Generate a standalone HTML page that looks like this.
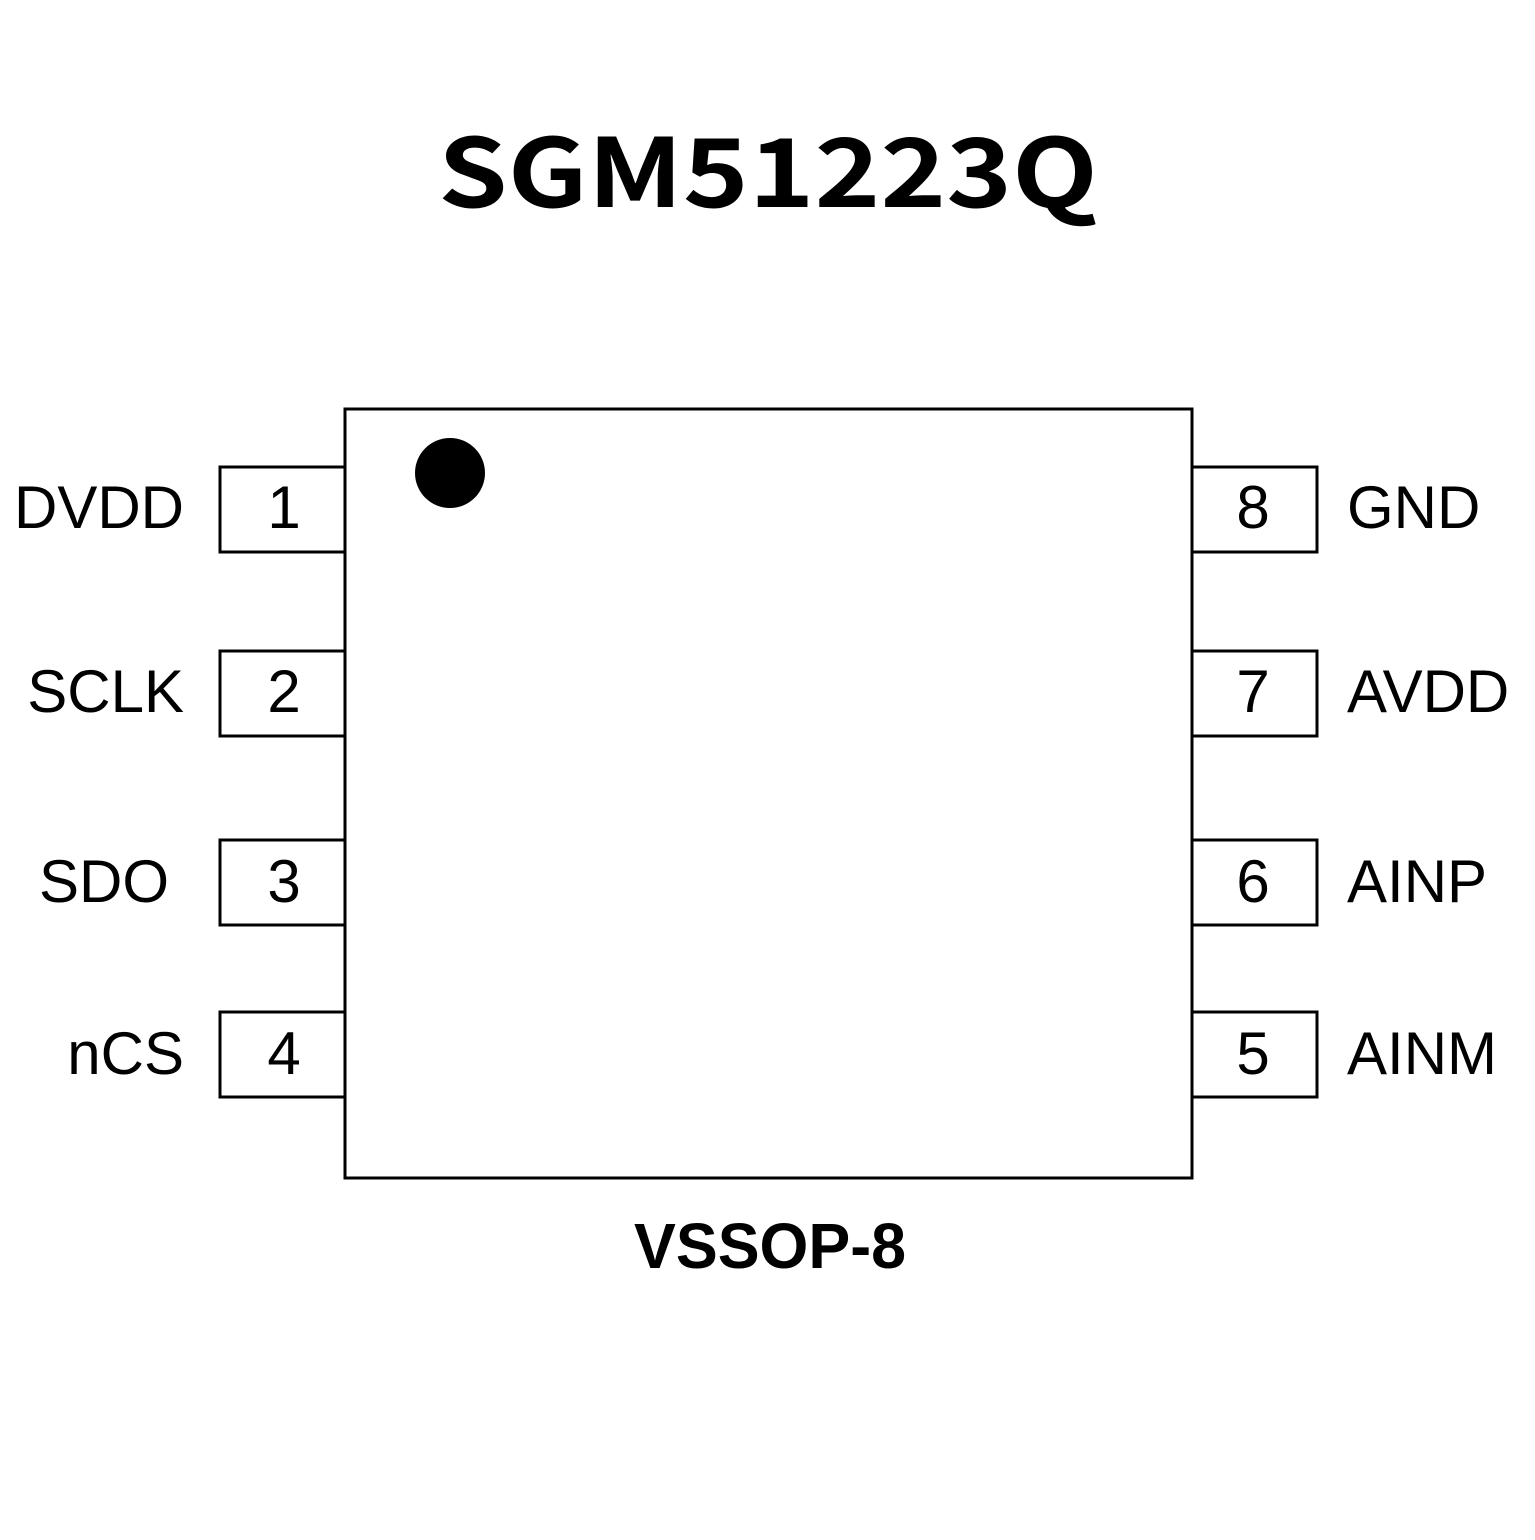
<!DOCTYPE html>
<html><head><meta charset="utf-8"><style>html,body{margin:0;padding:0;background:#fff}</style></head>
<body>
<svg width="1535" height="1535" viewBox="0 0 1535 1535" xmlns="http://www.w3.org/2000/svg">
<rect width="1535" height="1535" fill="#fff"/>
<text x="768" y="207" text-anchor="middle" font-family="'Noto Sans CJK SC','DejaVu Sans',sans-serif" font-weight="bold" font-size="95" textLength="660" lengthAdjust="spacingAndGlyphs">SGM51223Q</text>
<g fill="#fff" stroke="#000" stroke-width="3">
<rect x="220" y="467" width="125" height="85"/>
<rect x="220" y="651" width="125" height="85"/>
<rect x="220" y="840" width="125" height="85"/>
<rect x="220" y="1012" width="125" height="85"/>
<rect x="1192" y="467" width="125" height="85"/>
<rect x="1192" y="651" width="125" height="85"/>
<rect x="1192" y="840" width="125" height="85"/>
<rect x="1192" y="1012" width="125" height="85"/>
<rect x="345" y="409" width="847" height="769"/>
</g>
<circle cx="450" cy="473" r="35" fill="#000"/>
<g font-family="'Liberation Sans',sans-serif" font-size="60" fill="#000">
<g text-anchor="middle">
<text x="284" y="528">1</text><text x="284" y="712">2</text><text x="284" y="902">3</text><text x="284" y="1074">4</text>
<text x="1253" y="528">8</text><text x="1253" y="712">7</text><text x="1253" y="902">6</text><text x="1253" y="1074">5</text>
</g>
<g text-anchor="end">
<text x="184" y="528">DVDD</text><text x="184" y="712">SCLK</text><text x="169" y="902">SDO</text><text x="184" y="1074">nCS</text>
</g>
<text x="1347" y="528">GND</text><text x="1347" y="712">AVDD</text><text x="1347" y="902">AINP</text><text x="1347" y="1074">AINM</text>
</g>
<text x="770" y="1268" text-anchor="middle" font-family="'Liberation Sans',sans-serif" font-weight="bold" font-size="64" textLength="272" lengthAdjust="spacingAndGlyphs">VSSOP-8</text>
</svg>
</body></html>
